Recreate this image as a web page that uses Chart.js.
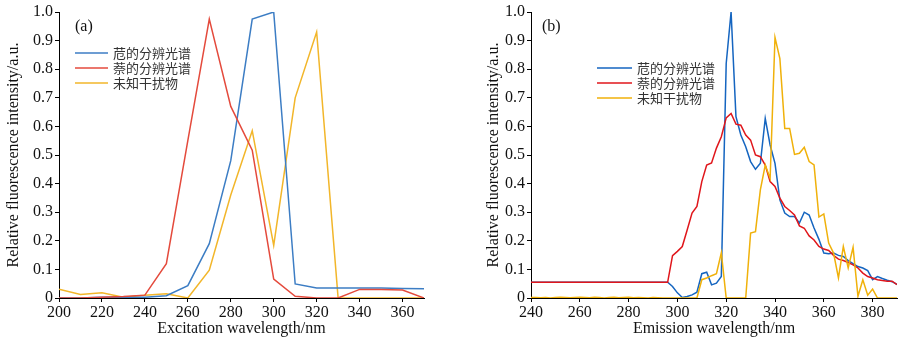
<!DOCTYPE html>
<html>
<head>
<meta charset="utf-8">
<script src="https://cdn.jsdelivr.net/npm/chart.js@4.4.1/dist/chart.umd.min.js"></script>
<style>
  body { margin: 0; background: #fff; }
  #wrap { display: flex; width: 900px; height: 343px; }
  canvas { display: block; }
</style>
</head>
<body>
<div id="wrap">
  <canvas id="chartA" width="480" height="343"></canvas>
  <canvas id="chartB" width="420" height="343"></canvas>
</div>
<script>
// legend names
var names = ["苊的分辨光谱", "萘的分辨光谱", "未知干扰物"];

// (a) excitation spectra, every 10 nm
var waveA = [200,210,220,230,240,250,260,270,280,290,300,310,320,330,340,350,360,370];
var acenA = [0,0,0.003,0.003,0.003,0.008,0.043,0.19,0.48,0.975,1.0,0.049,0.035,0.035,0.035,0.035,0.033,0.032];
var naphA = [0,0,0.003,0.005,0.01,0.12,0.55,0.975,0.67,0.517,0.066,0.006,0,0,0.03,0.03,0.028,0];
var unkA  = [0.031,0.012,0.018,0.003,0.01,0.015,0,0.097,0.36,0.585,0.184,0.70,0.93,0,0,0,0,0];

// (b) emission spectra, every 2 nm
var waveB = [240,242,244,246,248,250,252,254,256,258,260,262,264,266,268,270,272,274,276,278,
             280,282,284,286,288,290,292,294,296,298,300,302,304,306,308,310,312,314,316,318,
             320,322,324,326,328,330,332,334,336,338,340,342,344,346,348,350,352,354,356,358,
             360,362,364,366,368,370,372,374,376,378,380,382,384,386,388,390];
var acenB = [0.055,0.055,0.055,0.055,0.055,0.055,0.055,0.055,0.055,0.055,0.055,0.055,0.055,0.055,0.055,
             0.055,0.055,0.055,0.055,0.055,0.055,0.055,0.055,0.055,0.055,0.055,0.055,0.055,0.055,
             0.04,0.018,0.002,0.005,0.011,0.02,0.085,0.09,0.046,0.052,0.075,
             0.82,1.0,0.634,0.57,0.529,0.477,0.45,0.471,0.628,0.535,
             0.471,0.343,0.297,0.285,0.285,0.262,0.30,0.29,0.245,0.205,
             0.157,0.155,0.157,0.149,0.145,0.131,0.12,0.11,0.105,0.096,
             0.064,0.075,0.068,0.062,0.057,0.048];
var naphB = [0.055,0.055,0.055,0.055,0.055,0.055,0.055,0.055,0.055,0.055,0.055,0.055,0.055,0.055,0.055,
             0.055,0.055,0.055,0.055,0.055,0.055,0.055,0.055,0.055,0.055,0.055,0.055,0.055,0.055,
             0.148,0.163,0.18,0.238,0.297,0.32,0.407,0.465,0.472,0.524,0.564,
             0.63,0.645,0.608,0.604,0.57,0.552,0.5,0.494,0.465,0.407,
             0.39,0.349,0.32,0.306,0.29,0.252,0.244,0.217,0.203,0.18,
             0.171,0.166,0.149,0.136,0.131,0.124,0.116,0.105,0.087,0.075,
             0.07,0.064,0.061,0.059,0.059,0.047];
var unkB  = [0.002,0.002,0.001,0.002,0,0.002,0.003,0.002,0.001,0.002,0.003,0.002,0.001,0.003,0.002,
             0,0.002,0.003,0.001,0.002,0.003,0.001,0.002,0.001,0,0.002,0.001,0,0,0,0,0,0,0,
             0,0.064,0.07,0.078,0.085,0.158,
             0,0,0,0,0,0.227,0.232,0.378,0.465,0.419,
             0.911,0.837,0.593,0.593,0.502,0.506,0.527,0.477,0.465,0.283,
             0.294,0.192,0.157,0.07,0.18,0.105,0.177,0.006,0.064,0.01,
             0.031,0,0,0,0,0];

// tick labels
var yTicks = [0,0.1,0.2,0.3,0.4,0.5,0.6,0.7,0.8,0.9,1.0];
var yTickText = ["0","0.1","0.2","0.3","0.4","0.5","0.6","0.7","0.8","0.9","1.0"];
var xTicksA = [200,220,240,260,280,300,320,340,360];
var xTicksB = [240,260,280,300,320,340,360,380];

var serif = "'Liberation Serif', 'Times New Roman', serif";
var colorsA = ["#3c7dc4", "#e44a3c", "#f2b62a"];
var colorsB = ["#1565c0", "#e0161b", "#f0b10a"];

function pts(xs, ys) {
  return xs.map(function (x, i) { return { x: x, y: ys[i] }; });
}

// draws the legend and panel tag inside the plot area
var innerLegend = {
  id: 'innerLegend',
  afterDraw: function (chart, args, opts) {
    var ctx = chart.ctx, area = chart.chartArea;
    ctx.save();
    ctx.fillStyle = '#111';
    ctx.font = '16px ' + serif;
    ctx.textBaseline = 'middle';
    ctx.fillText(opts.tag, area.left + opts.tagX, area.top + 15);
    ctx.font = "13px 'Noto Sans CJK SC'";
    chart.data.datasets.forEach(function (ds, i) {
      var y = area.top + opts.top + i * 15;
      var x = area.left + opts.left;
      ctx.strokeStyle = ds.borderColor;
      ctx.lineWidth = 1.5;
      ctx.beginPath();
      ctx.moveTo(x, y);
      ctx.lineTo(x + opts.len, y);
      ctx.stroke();
      ctx.fillStyle = '#333';
      ctx.fillText(ds.label, x + opts.len + 5, y);
    });
    ctx.restore();
  }
};

function makeChart(id, xs, series, colors, xTicks, xMin, xMax, xTitle, yWidth, padRight, legendOpts, orders) {
  return new Chart(document.getElementById(id), {
    type: 'line',
    data: {
      datasets: series.map(function (s, i) {
        return {
          label: names[i],
          data: pts(xs, s),
          borderColor: colors[i],
          borderWidth: 1.5,
          pointRadius: 0,
          tension: 0,
          fill: false,
          order: orders[i]
        };
      })
    },
    options: {
      responsive: false,
      animation: false,
      events: [],
      layout: { padding: { top: 12, right: padRight, left: 0, bottom: 0 } },
      plugins: { legend: { display: false }, tooltip: { enabled: false }, innerLegend: legendOpts },
      scales: {
        x: {
          type: 'linear', min: xMin, max: xMax,
          afterBuildTicks: function (s) { s.ticks = xTicks.map(function (v) { return { value: v }; }); },
          afterFit: function (s) { s.height = 45; },
          grid: { display: true, drawOnChartArea: false, drawTicks: true, tickLength: 4, color: '#000' },
          border: { display: true, color: '#000', width: 1 },
          ticks: { color: '#111', font: { family: serif, size: 16 }, padding: 1, maxRotation: 0 },
          title: { display: true, text: xTitle, color: '#111', font: { family: serif, size: 16 }, padding: { top: 0, bottom: 5 } }
        },
        y: {
          type: 'linear', min: 0, max: 1,
          afterBuildTicks: function (s) { s.ticks = yTicks.map(function (v) { return { value: v }; }); },
          afterFit: function (s) { s.width = yWidth; },
          grid: { display: true, drawOnChartArea: false, drawTicks: true, tickLength: 4, color: '#000' },
          border: { display: true, color: '#000', width: 1 },
          ticks: {
            color: '#111', font: { family: serif, size: 16 }, padding: 2,
            callback: function (v) { return yTickText[yTicks.indexOf(v)]; }
          },
          title: { display: true, text: 'Relative fluorescence intensity/a.u.', color: '#111', font: { family: serif, size: 16 } }
        }
      }
    },
    plugins: [innerLegend]
  });
}

makeChart('chartA', waveA, [acenA, naphA, unkA], colorsA, xTicksA, 200, 370,
  'Excitation wavelength/nm', 59, 56, { tag: '(a)', tagX: 16, top: 41, left: 16, len: 33 }, [1, 0, 2]);
makeChart('chartB', waveB, [acenB, naphB, unkB], colorsB, xTicksB, 240, 390,
  'Emission wavelength/nm', 51, 3, { tag: '(b)', tagX: 11, top: 56, left: 66, len: 35 }, [2, 1, 0]);
</script>
</body>
</html>
